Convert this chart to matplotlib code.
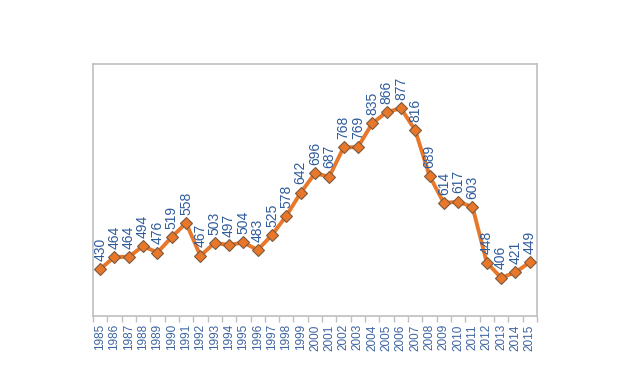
import matplotlib.pyplot as plt

# valores
anos = list(range(1985, 2016))
valores = [430, 464, 464, 494, 476, 519, 558, 467, 503, 497, 504, 483, 525, 578,
           642, 696, 687, 768, 769, 835, 866, 877, 816, 689, 614, 617, 603, 448,
           406, 421, 449]

azul = '#2f5b9b'
laranja = '#e8772a'
cinza = '#bfbfbf'

plt.rcParams['font.family'] = ['Liberation Sans', 'DejaVu Sans']

fig = plt.figure(figsize=(6.2, 3.9), dpi=100)
ax = fig.add_axes([0.15, 0.19, 0.716, 0.646])

x = list(range(len(anos)))
ax.plot(x, valores, '-', color=laranja, lw=2.8, marker='D', ms=6,
        mfc=laranja, mec='#7a5a40', mew=0.8, zorder=3)

for i, v in enumerate(valores):
    ax.annotate(str(v), (x[i], v), textcoords='offset points', xytext=(0, 6),
                ha='center', va='bottom', rotation=90, color=azul, fontsize=10)

ax.set_xlim(-0.5, len(anos) - 0.5)
ax.set_ylim(300, 1000)
ax.set_yticks([])

ax.set_xticks(x)
ax.set_xticklabels([str(a) for a in anos], rotation=90, color='#3d64a0', fontsize=8.5)
ax.tick_params(axis='x', length=0, pad=6)
# marcas entre categorias
ax.set_xticks([i - 0.5 for i in range(len(anos) + 1)], minor=True)
ax.tick_params(axis='x', which='minor', length=4, color=cinza, width=1)

for s in ax.spines.values():
    s.set_color(cinza)
    s.set_linewidth(1.2)

fig.savefig('out.png', dpi=100)
